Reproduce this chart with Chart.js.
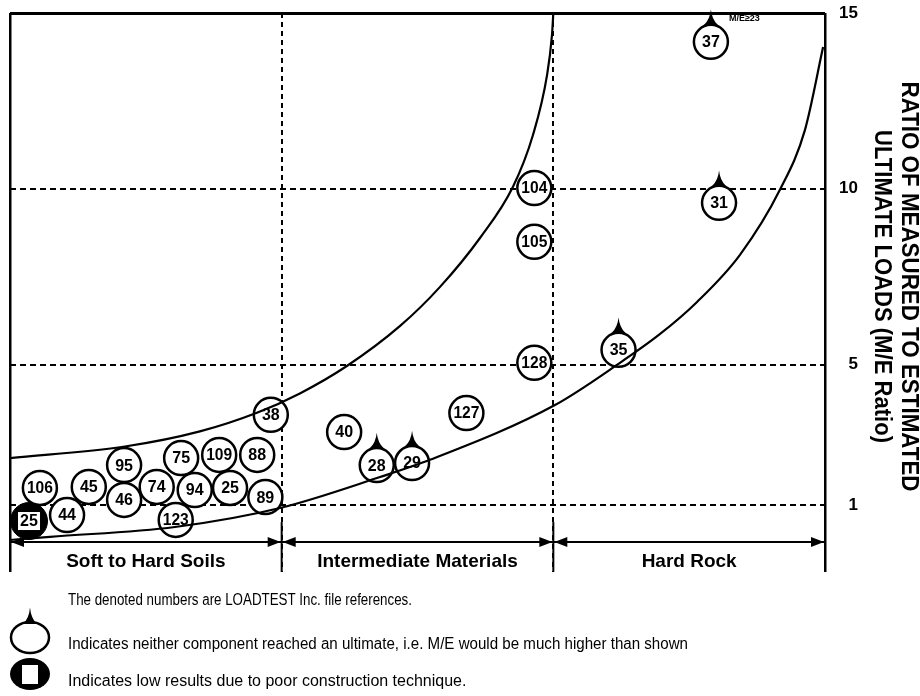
<!DOCTYPE html>
<html>
<head>
<meta charset="utf-8">
<script src="https://cdn.jsdelivr.net/npm/chart.js@4.4.1/dist/chart.umd.min.js"></script>
<style>
  html, body { margin: 0; padding: 0; background: #fff; }
  #wrap { width: 920px; height: 696px; position: relative; }
</style>
</head>
<body>
<div id="wrap"><canvas id="chart"></canvas></div>
<script>
// --- values ---
const regionLabels = ['Soft to Hard Soils', 'Intermediate Materials', 'Hard Rock'];
const regionEdges = [0, 1, 2, 3];
const yTicks = [1, 5, 10, 15];

// bounding curves
const upperX = [0, 0.423, 0.699, 0.909, 1.067, 1.24, 1.436, 1.583, 1.73, 1.851, 1.925, 1.977, 1.995, 2.0];
const upperY = [2.34, 2.67, 3.10, 3.63, 4.18, 4.96, 6.10, 7.21, 8.60, 10.05, 11.53, 13.24, 14.37, 15];
const lowerX = [0, 0.147, 0.607, 0.994, 1.362, 1.546, 2.006, 2.234, 2.393, 2.529, 2.687, 2.834, 2.926, 2.993];
const lowerY = [0.01, 0.10, 0.38, 0.92, 1.80, 2.29, 3.85, 4.99, 5.87, 6.78, 8.12, 9.97, 11.67, 14.03];

// plain circles
const openLabels = ['106', '45', '95', '75', '109', '88', '74', '94', '25', '46', '89', '44', '123', '38', '40', '127', '104', '105', '128'];
const openX = [0.11, 0.29, 0.42, 0.63, 0.77, 0.91, 0.54, 0.68, 0.81, 0.42, 0.94, 0.21, 0.61, 0.96, 1.23, 1.68, 1.93, 1.93, 1.93];
const openY = [1.49, 1.52, 2.14, 2.34, 2.43, 2.43, 1.52, 1.43, 1.49, 1.15, 1.23, 0.72, 0.58, 3.57, 3.08, 3.62, 10.02, 8.49, 5.05];

// circles with a cap: neither component reached an ultimate
const capLabels = ['28', '29', '35', '31', '37'];
const capX = [1.35, 1.48, 2.24, 2.61, 2.58];
const capY = [2.14, 2.20, 5.42, 9.60, 14.18];

// poor construction technique
const poorLabels = ['25'];
const poorX = [0.07];
const poorY = [0.55];

const yTitle = ['RATIO OF MEASURED TO ESTIMATED', 'ULTIMATE LOADS (M/E Ratio)'];
const capNote = 'M/E≥23';
const legendLines = [
  'The denoted numbers are LOADTEST Inc. file references.',
  'Indicates neither component reached an ultimate, i.e. M/E would be much higher than shown',
  'Indicates low results due to poor construction technique.'
];

const FONT = '"Liberation Sans", Arial, Helvetica, sans-serif';
const R = 17;

function pts(xs, ys) {
  return xs.map((x, i) => ({ x: x, y: ys[i] }));
}

function drawCap(ctx, cx, top, h) {
  ctx.beginPath();
  ctx.moveTo(cx, top - h);
  ctx.quadraticCurveTo(cx - 1, top - 4, cx - 7, top + 1.5);
  ctx.lineTo(cx + 7, top + 1.5);
  ctx.quadraticCurveTo(cx + 1, top - 4, cx, top - h);
  ctx.closePath();
  ctx.fill();
}

function drawArrowHead(ctx, tipX, y, dir) {
  ctx.beginPath();
  ctx.moveTo(tipX, y);
  ctx.lineTo(tipX - dir * 13, y - 5);
  ctx.lineTo(tipX - dir * 13, y + 5);
  ctx.closePath();
  ctx.fill();
}

const overlay = {
  id: 'overlay',
  afterDatasetsDraw(chart) {
    const { ctx, chartArea: a, scales: { x, y } } = chart;
    ctx.save();
    ctx.fillStyle = '#000';
    ctx.strokeStyle = '#000';

    // caps on top of the circles
    chart.getDatasetMeta(3).data.forEach(pt => drawCap(ctx, pt.x, pt.y - R - 1.25, 14));

    // white square inside the bold circle
    chart.getDatasetMeta(4).data.forEach(pt => {
      ctx.fillStyle = '#fff';
      ctx.fillRect(pt.x - 11, pt.y - 9, 22, 18);
      ctx.fillStyle = '#000';
    });

    // file numbers
    ctx.font = 'bold 16px ' + FONT;
    ctx.textAlign = 'center';
    ctx.textBaseline = 'middle';
    [[2, openLabels], [3, capLabels], [4, poorLabels]].forEach(([i, labels]) => {
      chart.getDatasetMeta(i).data.forEach((pt, j) => ctx.fillText(labels[j], pt.x, pt.y + 1, 26));
    });

    // note next to 37
    const p37 = chart.getDatasetMeta(3).data[4];
    ctx.font = 'bold 9px ' + FONT;
    ctx.textAlign = 'left';
    ctx.fillText(capNote, p37.x + 18, a.top + 6, 38);

    // region arrows
    const ya = y.getPixelForValue(-0.05);
    ctx.lineWidth = 2;
    for (let i = 0; i < regionLabels.length; i++) {
      const xl = x.getPixelForValue(regionEdges[i]);
      const xr = x.getPixelForValue(regionEdges[i + 1]);
      ctx.beginPath();
      ctx.moveTo(xl, ya);
      ctx.lineTo(xr, ya);
      ctx.stroke();
      drawArrowHead(ctx, xl + 1, ya, -1);
      drawArrowHead(ctx, xr - 1, ya, 1);
    }
    // solid lower part of the region dividers
    [1, 2].forEach(v => {
      const px = x.getPixelForValue(v);
      ctx.beginPath();
      ctx.moveTo(px, y.getPixelForValue(0.52));
      ctx.lineTo(px, a.bottom);
      ctx.stroke();
    });
    // region names
    ctx.font = 'bold 19px ' + FONT;
    ctx.textAlign = 'center';
    ctx.textBaseline = 'middle';
    const yl = y.getPixelForValue(-0.6);
    regionLabels.forEach((t, i) => {
      const cx = (x.getPixelForValue(regionEdges[i]) + x.getPixelForValue(regionEdges[i + 1])) / 2;
      ctx.fillText(t, cx, yl);
    });

    // axis title, reading top to bottom
    ctx.font = 'bold 23px ' + FONT;
    const ty = (a.top + a.bottom) / 2 - 6;
    [[908, 410], [881, 313]].forEach(([tx, w], i) => {
      ctx.save();
      ctx.translate(tx, ty);
      ctx.rotate(Math.PI / 2);
      ctx.fillText(yTitle[i], 0, 0, w);
      ctx.restore();
    });

    // legend
    ctx.lineWidth = 2.5;
    drawCap(ctx, 30, 622.5, 15);
    ctx.beginPath();
    ctx.ellipse(30, 637.5, 19, 15.5, 0, 0, Math.PI * 2);
    ctx.stroke();
    ctx.beginPath();
    ctx.ellipse(30, 674, 20, 16, 0, 0, Math.PI * 2);
    ctx.fill();
    ctx.fillStyle = '#fff';
    ctx.fillRect(22, 665, 16, 19);
    ctx.fillStyle = '#000';

    ctx.font = '16px ' + FONT;
    ctx.textAlign = 'left';
    const legendY = [601, 645, 682];
    const legendW = [344, 620, 410];
    legendLines.forEach((t, i) => ctx.fillText(t, 68, legendY[i], legendW[i]));

    ctx.restore();
  }
};

Chart.defaults.font.family = FONT;
Chart.defaults.color = '#000';

new Chart(document.getElementById('chart'), {
  type: 'scatter',
  data: {
    datasets: [
      {
        label: 'upper',
        data: pts(upperX, upperY),
        showLine: true,
        borderColor: '#000',
        borderWidth: 2.2,
        pointRadius: 0,
        fill: false,
        cubicInterpolationMode: 'monotone',
        order: 0
      },
      {
        label: 'lower',
        data: pts(lowerX, lowerY),
        showLine: true,
        borderColor: '#000',
        borderWidth: 2.2,
        pointRadius: 0,
        fill: false,
        cubicInterpolationMode: 'monotone',
        order: 0
      },
      {
        label: 'open',
        data: pts(openX, openY),
        pointRadius: R,
        pointBackgroundColor: '#fff',
        pointBorderColor: '#000',
        pointBorderWidth: 2.5,
        order: 1
      },
      {
        label: 'capped',
        data: pts(capX, capY),
        pointRadius: R,
        pointBackgroundColor: '#fff',
        pointBorderColor: '#000',
        pointBorderWidth: 2.5,
        order: 1
      },
      {
        label: 'poor',
        data: pts(poorX, poorY),
        pointRadius: 18.5,
        pointBackgroundColor: '#000',
        pointBorderColor: '#000',
        pointBorderWidth: 1,
        order: 1
      }
    ]
  },
  options: {
    responsive: true,
    maintainAspectRatio: false,
    animation: false,
    events: [],
    layout: { autoPadding: false, padding: { left: 10, top: 13, right: 62, bottom: 124 } },
    plugins: { legend: { display: false }, tooltip: { enabled: false } },
    scales: {
      x: {
        type: 'linear',
        min: 0,
        max: 3,
        afterBuildTicks: s => { s.ticks = regionEdges.map(v => ({ value: v })); },
        ticks: { display: false },
        grid: {
          color: '#000',
          lineWidth: c => (c.tick && (c.tick.value === 0 || c.tick.value === 3)) ? 2.5 : 2,
          drawTicks: false
        },
        border: {
          display: false,
          dash: c => (c.tick && c.tick.value > 0 && c.tick.value < 3) ? [5, 4] : []
        }
      },
      y: {
        type: 'linear',
        position: 'right',
        min: -0.9,
        max: 15,
        afterBuildTicks: s => { s.ticks = yTicks.map(v => ({ value: v })); },
        afterFit: s => { s.width = 33; s.paddingTop = 0; s.paddingBottom = 0; },
        ticks: {
          color: '#000',
          font: { size: 17, weight: 'bold' },
          padding: 14,
          crossAlign: 'far'
        },
        grid: {
          color: '#000',
          lineWidth: c => (c.tick && c.tick.value === 15) ? 3 : 2,
          drawTicks: false
        },
        border: {
          display: false,
          dash: c => (c.tick && c.tick.value < 15) ? [6, 4] : []
        }
      }
    }
  },
  plugins: [overlay]
});
</script>
</body>
</html>
